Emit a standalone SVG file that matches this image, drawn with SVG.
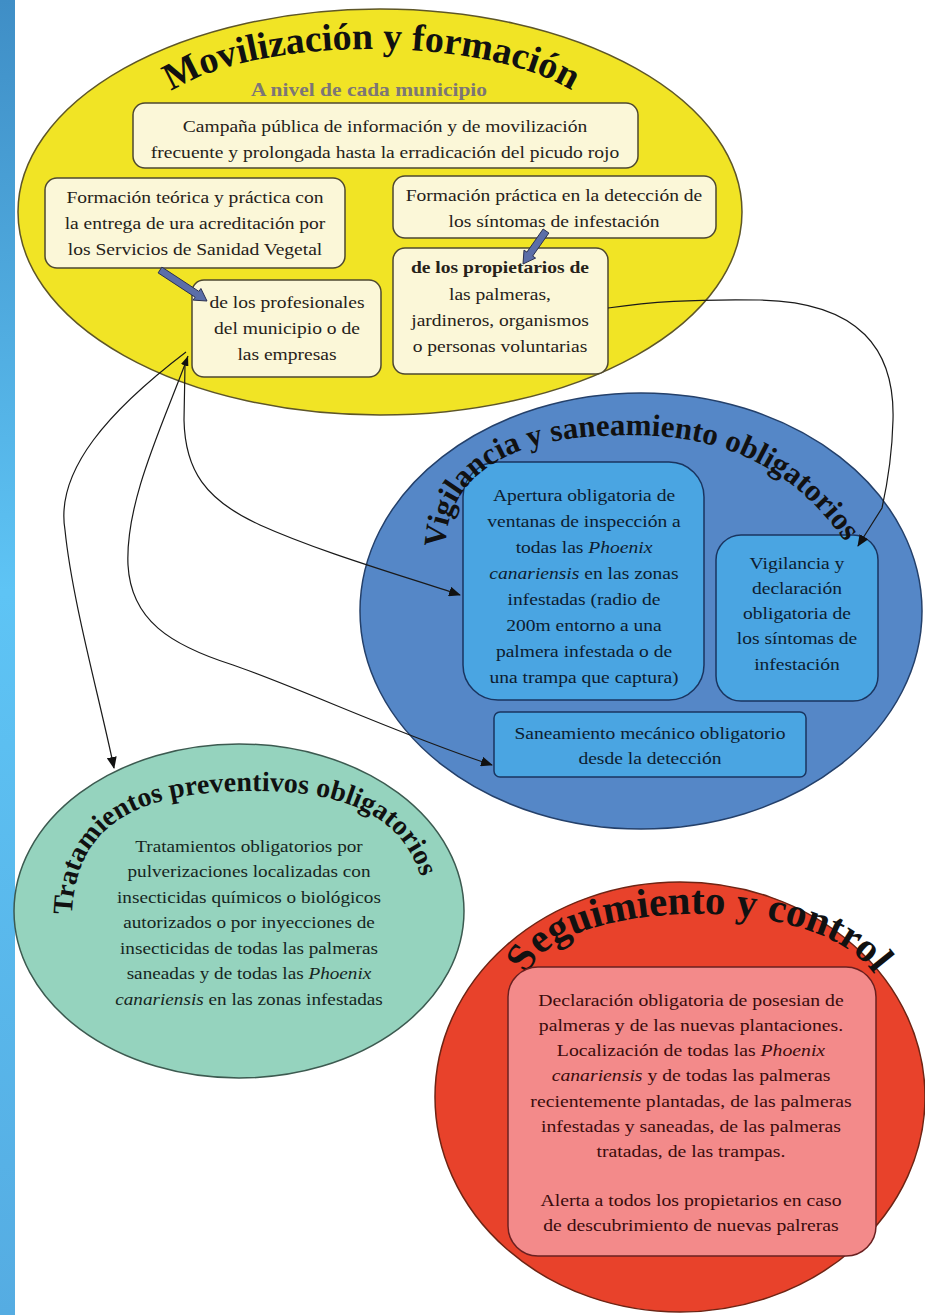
<svg xmlns="http://www.w3.org/2000/svg" width="925" height="1315" viewBox="0 0 925 1315">
<defs>
<linearGradient id="strip" x1="0" y1="0" x2="0" y2="1">
<stop offset="0" stop-color="#3f8ec6"/>
<stop offset="0.45" stop-color="#5ec4f5"/>
<stop offset="1" stop-color="#55ace2"/>
</linearGradient>
<marker id="arr" markerUnits="userSpaceOnUse" markerWidth="12" markerHeight="10" refX="11" refY="5" orient="auto">
<path d="M0,0 L12,5 L0,10 z" fill="#111"/>
</marker>
<marker id="arrs" markerUnits="userSpaceOnUse" markerWidth="10" markerHeight="8" refX="0" refY="4" orient="auto">
<path d="M10,0 L0,4 L10,8 z" fill="#111"/>
</marker>
<path id="p-yellow" d="M 160,100 C 238,32 502,32 585,100"/>
<path id="p-blue" d="M 445,548 C 448,468 520,440 600,436 C 680,432 772,440 844,540"/>
<path id="p-green" d="M 72,915 C 75,822 140,792 250,791 C 345,790 415,815 426,902"/>
<path id="p-red" d="M 528,975 C 552,898 832,886 880,984"/>
</defs>
<style>
.t{font-family:"Liberation Serif","Times New Roman",serif;font-size:17px;text-anchor:middle;}
.ty{fill:#262218;}
.tb{fill:#0d1c30;}
.tg{fill:#16261e;}
.tr{fill:#3a0c0c;}
.title{font-family:"Liberation Serif","Times New Roman",serif;font-weight:bold;fill:#111;}
.ybox{fill:#fbf7d8;stroke:#4e4830;stroke-width:1.5;}
.bbox{fill:#4aa5e2;stroke:#1a3560;stroke-width:1.5;}
.rbox{fill:#f38a8a;stroke:#6a2020;stroke-width:1.5;}
.conn{fill:none;stroke:#1a1a1a;stroke-width:1.2;}
.fat{fill:#5b6ea8;stroke:#2a3050;stroke-width:1;}
.it{font-style:italic;}
</style>
<rect x="0" y="0" width="925" height="1315" fill="#ffffff"/>
<rect x="0" y="0" width="15" height="1315" fill="url(#strip)"/>

<g id="movilizacion">
<ellipse cx="380" cy="212" rx="362" ry="203" fill="#f1e425" stroke="#5e5628" stroke-width="1.5"/>
<text class="title" font-size="38"><textPath href="#p-yellow" startOffset="14">Movilización y formación</textPath></text>
<g transform="matrix(1.13,0,0,1,-47.97,0)">
<text x="369" y="96" font-family="Liberation Serif, serif" font-weight="bold" font-size="19" fill="#7d7676" text-anchor="middle">A nivel de cada municipio</text>
</g>
</g>

<g id="campana">
<rect class="ybox" x="133" y="103" width="505" height="65" rx="12"/>
<g transform="matrix(1.15,0,0,1,-57.75,0)">
<text class="t ty" x="385" y="132">Campaña pública de información y de movilización</text>
<text class="t ty" x="385" y="158">frecuente y prolongada hasta la erradicación del picudo rojo</text>
</g>
</g>

<g id="formacion-teorica">
<rect class="ybox" x="45" y="178" width="300" height="90" rx="12"/>
<g transform="matrix(1.15,0,0,1,-29.25,0)">
<text class="t ty" x="195" y="203">Formación teórica y práctica con</text>
<text class="t ty" x="195" y="229">la entrega de ura acreditación por</text>
<text class="t ty" x="195" y="255">los Servicios de Sanidad Vegetal</text>
</g>
</g>

<g id="formacion-practica">
<rect class="ybox" x="393" y="176" width="323" height="62" rx="12"/>
<g transform="matrix(1.15,0,0,1,-83.1,0)">
<text class="t ty" x="554" y="201">Formación práctica en la detección de</text>
<text class="t ty" x="554" y="227">los síntomas de infestación</text>
</g>
</g>

<g id="profesionales">
<rect class="ybox" x="192" y="280" width="189" height="97" rx="12"/>
<g transform="matrix(1.15,0,0,1,-43.05,0)">
<text class="t ty" x="287" y="308">de los profesionales</text>
<text class="t ty" x="287" y="334">del municipio o de</text>
<text class="t ty" x="287" y="360">las empresas</text>
</g>
</g>

<g id="propietarios">
<rect class="ybox" x="393" y="248" width="215" height="126" rx="12"/>
<g transform="matrix(1.15,0,0,1,-75,0)">
<text class="t ty" x="500" y="273" font-size="13" font-weight="bold">de los propietarios de</text>
<text class="t ty" x="500" y="300">las palmeras,</text>
<text class="t ty" x="500" y="326">jardineros, organismos</text>
<text class="t ty" x="500" y="352">o  personas voluntarias</text>
</g>
</g>

<g id="fat-arrows">
<polygon class="fat" points="158.1,272.9 195.1,297.2 193.1,300.1 207,301 200.9,288.5 198.9,291.4 161.9,267.1"/>
<polygon class="fat" points="548.9,233 532.7,256.1 535.6,258.1 523,264 524,250.1 526.9,252.1 543.1,229"/>
</g>

<g id="vigilancia">
<ellipse cx="641" cy="611" rx="281" ry="218" fill="#5587c7" stroke="#24406a" stroke-width="1.5"/>
</g>

<g id="apertura">
<rect class="bbox" x="463" y="462" width="241" height="238" rx="35"/>
<g transform="matrix(1.15,0,0,1,-87.6,0)">
<text class="t tb" x="584" y="501">Apertura obligatoria de</text>
<text class="t tb" x="584" y="527">ventanas de inspección a</text>
<text class="t tb" x="584" y="553">todas las <tspan class="it">Phoenix</tspan></text>
<text class="t tb" x="584" y="579"><tspan class="it">canariensis</tspan> en las zonas</text>
<text class="t tb" x="584" y="605">infestadas (radio de</text>
<text class="t tb" x="584" y="631">200m entorno a una</text>
<text class="t tb" x="584" y="657">palmera infestada o de</text>
<text class="t tb" x="584" y="683">una trampa que captura)</text>
</g>
</g>

<g id="vigilancia-declaracion">
<rect class="bbox" x="716" y="535" width="162" height="166" rx="25"/>
<g transform="matrix(1.15,0,0,1,-119.55,0)">
<text class="t tb" x="797" y="569">Vigilancia y</text>
<text class="t tb" x="797" y="594">declaración</text>
<text class="t tb" x="797" y="619">obligatoria de</text>
<text class="t tb" x="797" y="644">los síntomas de</text>
<text class="t tb" x="797" y="670">infestación</text>
</g>
</g>

<g id="saneamiento">
<rect class="bbox" x="494" y="712" width="312" height="65" rx="6"/>
<g transform="matrix(1.15,0,0,1,-97.5,0)">
<text class="t tb" x="650" y="739">Saneamiento mecánico obligatorio</text>
<text class="t tb" x="650" y="764">desde la detección</text>
</g>
</g>

<g id="vigilancia-title">
<text class="title" font-size="31"><textPath href="#p-blue" startOffset="0">Vigilancia y saneamiento obligatorios</textPath></text>
</g>

<g id="tratamientos">
<ellipse cx="239" cy="911" rx="225" ry="167" fill="#95d3be" stroke="#3c5a50" stroke-width="1.5"/>
<text class="title" font-size="28"><textPath href="#p-green" startOffset="0">Tratamientos preventivos obligatorios</textPath></text>
<g transform="matrix(1.13,0,0,1,-32.37,0)">
<text class="t tg" x="249" y="852" font-size="16">Tratamientos obligatorios por</text>
<text class="t tg" x="249" y="877" font-size="16">pulverizaciones localizadas con</text>
<text class="t tg" x="249" y="903" font-size="16">insecticidas químicos o biológicos</text>
<text class="t tg" x="249" y="928" font-size="16">autorizados o por inyecciones de</text>
<text class="t tg" x="249" y="954" font-size="16">insecticidas de todas las palmeras</text>
<text class="t tg" x="249" y="979" font-size="16">saneadas y de todas las <tspan class="it">Phoenix</tspan></text>
<text class="t tg" x="249" y="1005" font-size="16"><tspan class="it">canariensis</tspan> en las zonas infestadas</text>
</g>
</g>

<g id="seguimiento">
<ellipse cx="680" cy="1097" rx="245" ry="215" fill="#e8422b" stroke="#6e2414" stroke-width="1.5"/>
<text class="title" font-size="41"><textPath href="#p-red" startOffset="0">Seguimiento y control</textPath></text>
<rect class="rbox" x="508" y="967" width="368" height="289" rx="30"/>
<g transform="matrix(1.16,0,0,1,-110.56,0)">
<text class="t tr" x="691" y="1006">Declaración  obligatoria de posesian de</text>
<text class="t tr" x="691" y="1031">palmeras y de las nuevas plantaciones.</text>
<text class="t tr" x="691" y="1056">Localización de todas las <tspan class="it">Phoenix</tspan></text>
<text class="t tr" x="691" y="1081"><tspan class="it">canariensis</tspan> y de todas las palmeras</text>
<text class="t tr" x="691" y="1107">recientemente plantadas, de las palmeras</text>
<text class="t tr" x="691" y="1132">infestadas y saneadas, de las palmeras</text>
<text class="t tr" x="691" y="1157">tratadas, de las trampas.</text>
<text class="t tr" x="691" y="1206">Alerta a todos los propietarios en caso</text>
<text class="t tr" x="691" y="1231">de descubrimiento de nuevas palreras</text>
</g>
</g>

<g id="connectors">
<path class="conn" d="M 186,352 C 110,410 55,470 65,530 C 72,600 100,700 114,768" marker-end="url(#arr)"/>
<path class="conn" d="M 188,356 C 165,420 125,500 128,565 C 131,620 170,645 233,665 C 300,688 400,735 492,765" marker-start="url(#arrs)" marker-end="url(#arr)"/>
<path class="conn" d="M 185,365 L 184,420 C 185,470 205,500 260,525 C 320,552 400,575 460,595" marker-end="url(#arr)"/>
<path class="conn" d="M 608,308 C 650,302 690,299 760,300 C 860,302 895,350 893,420 C 892,460 886,490 882,508 L 858,546" marker-end="url(#arr)"/>
</g>
</svg>
